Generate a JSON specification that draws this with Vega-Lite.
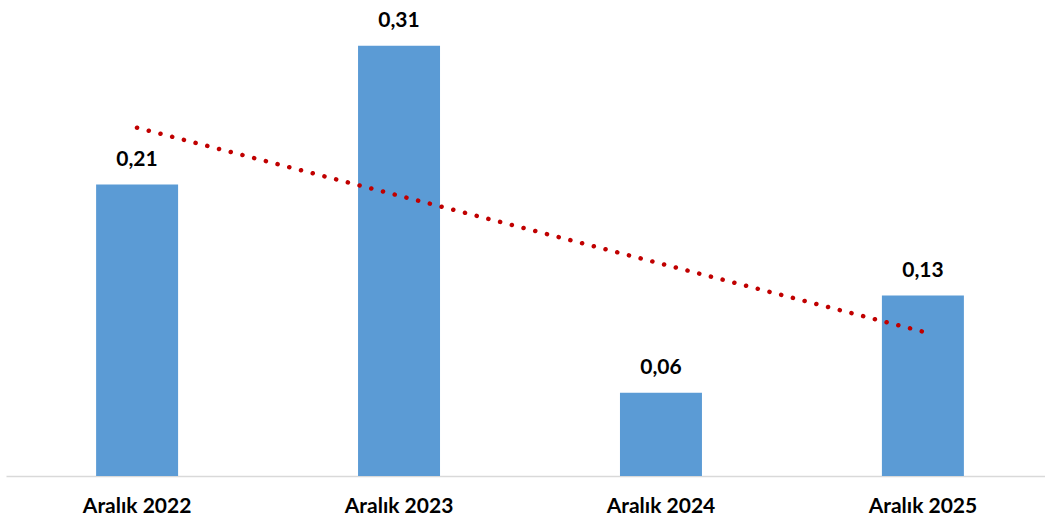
{
  "$schema": "https://vega.github.io/schema/vega-lite/v6.json",
  "width": 1048,
  "height": 476,
  "autosize": "none",
  "padding": {"left": 6, "top": 0, "right": 0, "bottom": 44},
  "background": "white",
  "config": {
    "view": {"stroke": null},
    "locale": {"number": {"decimal": ",", "thousands": ".", "grouping": [3], "currency": ["", " TL"]}},
    "font": "Lato"
  },
  "data": {
    "values": [
      {"Donem": "Aralık 2022", "i": 1, "v": 0.21},
      {"Donem": "Aralık 2023", "i": 2, "v": 0.31},
      {"Donem": "Aralık 2024", "i": 3, "v": 0.06},
      {"Donem": "Aralık 2025", "i": 4, "v": 0.13}
    ]
  },
  "layer": [
    {
      "mark": {"type": "bar", "color": "#5b9bd5"},
      "encoding": {
        "x": {
          "field": "Donem", "type": "nominal", "sort": null,
          "scale": {"paddingInner": 0.687, "paddingOuter": 0.344},
          "axis": {
            "title": null, "labelAngle": 0, "ticks": false,
            "domainColor": "#d9d9d9", "domainWidth": 1.5,
            "labelFont": "Lato", "labelFontWeight": "bold", "labelFontSize": 21,
            "labelColor": "#000000", "labelPadding": 19
          }
        },
        "y": {
          "field": "v", "type": "quantitative",
          "scale": {"domain": [0, 0.343], "nice": false},
          "axis": null
        }
      }
    },
    {
      "mark": {"type": "text", "baseline": "bottom", "dy": -15, "font": "Lato", "fontWeight": "bold", "fontSize": 21, "color": "#000000"},
      "encoding": {
        "x": {"field": "Donem", "type": "nominal", "sort": null, "scale": {"paddingInner": 0.687, "paddingOuter": 0.344}, "axis": null},
        "y": {"field": "v", "type": "quantitative", "scale": {"domain": [0, 0.343], "nice": false}},
        "text": {"field": "v", "type": "quantitative", "format": ".2f"}
      }
    },
    {
      "transform": [{"regression": "v", "on": "i"}],
      "mark": {"type": "line", "color": "#c00000", "strokeWidth": 4.5, "strokeCap": "round", "strokeDash": [0.1, 12]},
      "encoding": {
        "x": {"field": "i", "type": "quantitative", "scale": {"domain": [0.5, 4.5], "nice": false, "zero": false}, "axis": null},
        "y": {"field": "v", "type": "quantitative", "scale": {"domain": [0, 0.343], "nice": false}}
      }
    }
  ],
  "resolve": {"scale": {"x": "independent"}}
}
